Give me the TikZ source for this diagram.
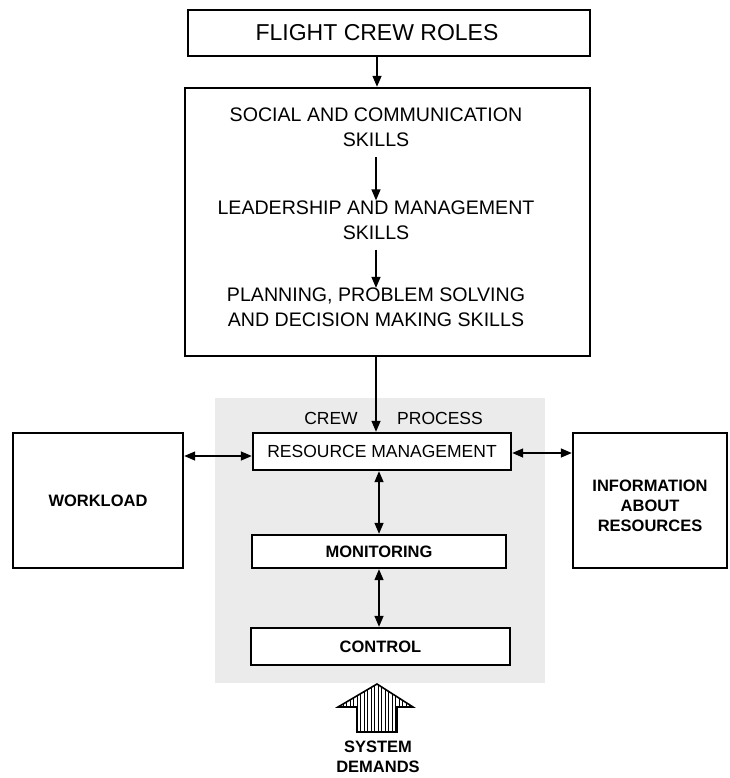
\documentclass[tikz,border=0pt]{standalone}
\usepackage{fontspec}
\setmainfont{Liberation Sans}
\usetikzlibrary{arrows.meta,patterns.meta,calc}
\begin{document}
\begin{tikzpicture}[x=1pt,y=-1pt,
  boxa/.style={draw,line width=2.4pt,inner sep=0pt},
  lbl/.style={inner sep=0pt,align=center},
  arr/.style={line width=1.4pt,-{Triangle[length=11pt,width=9pt]}},
  darr/.style={line width=1.4pt,{Triangle[length=11pt,width=9pt]}-{Triangle[length=11pt,width=9pt]}},
  big/.style={font=\fontsize{19.6}{25}\selectfont},
  mid/.style={font=\fontsize{17.5}{21}\selectfont},
  midb/.style={font=\fontsize{16.5}{20}\selectfont\bfseries}
]
\useasboundingbox (0,0) rectangle (729,778);
% shaded crew process area
\fill[gray!16] (215,398) rectangle (545,683);
% title box
\node[boxa,minimum width=402pt,minimum height=46pt] (title) at (389,33) {};
\node[lbl,font=\fontsize{23}{26}\selectfont] (titletxt) at (377,33) {FLIGHT CREW ROLES};
% big skills box
\node[boxa,minimum width=405pt,minimum height=268pt] (skills) at (387.5,222) {};
\node[lbl,big] (social) at (376,127.5) {SOCIAL AND COMMUNICATION\\SKILLS};
\node[lbl,big] (leader) at (376,220) {LEADERSHIP AND MANAGEMENT\\SKILLS};
\node[lbl,big] (plan) at (376,307.5) {PLANNING, PROBLEM SOLVING\\AND DECISION MAKING SKILLS};
\draw[arr] (title.south -| titletxt) -- (skills.north -| titletxt);
\draw[arr] (social.south) ++(0,10) coordinate (s1) -- (s1 |- leader.north);
\draw[arr] (leader.south) ++(0,10) coordinate (s2) -- (s2 |- plan.north);
% crew process boxes
\node[boxa,fill=white,minimum width=258pt,minimum height=37pt] (rm) at (382,451.5) {};
\node[lbl,mid] at (rm) {RESOURCE MANAGEMENT};
\node[boxa,fill=white,minimum width=254pt,minimum height=33pt] (mon) at (379,551.5) {};
\node[lbl,midb] at (mon) {MONITORING};
\node[boxa,fill=white,minimum width=259pt,minimum height=37pt] (ctrl) at (380.5,646.5) {};
\node[lbl,midb] at (ctrl) {CONTROL};
\node[lbl,mid] (crew) at (331,418) {CREW};
\node[lbl,mid] (process) at (440,418) {PROCESS};
\draw[arr] (skills.south -| social) -- (rm.north -| social);
\draw[darr] (rm.south -| mon) -- (mon.north);
\draw[darr] (mon.south) -- (ctrl.north -| mon);
% side boxes
\node[boxa,minimum width=170pt,minimum height=135pt] (work) at (98,500.5) {};
\node[lbl,midb] at (work) {WORKLOAD};
\node[boxa,minimum width=154pt,minimum height=135pt] (info) at (650,500.5) {};
\node[lbl,midb] at (650,506) {INFORMATION\\ABOUT\\RESOURCES};
\coordinate (wl) at (work.east |- 0,456);
\coordinate (rml) at (rm.west |- 0,456);
\draw[darr] (wl) -- (rml);
\coordinate (rmr) at (rm.east |- 0,453);
\coordinate (inl) at (info.west |- 0,453);
\draw[darr] (rmr) -- (inl);
% system demands arrow
\draw[line width=1.6pt,pattern={Lines[angle=90,distance=3.5pt,line width=1pt]}]
  (357,732) -- (357,707) -- (338,707) -- (377,684) -- (413,707) -- (397,707) -- (397,732) -- cycle;
\node[lbl,midb] (sys) at (378,757) {SYSTEM\\DEMANDS};
\end{tikzpicture}
\end{document}
